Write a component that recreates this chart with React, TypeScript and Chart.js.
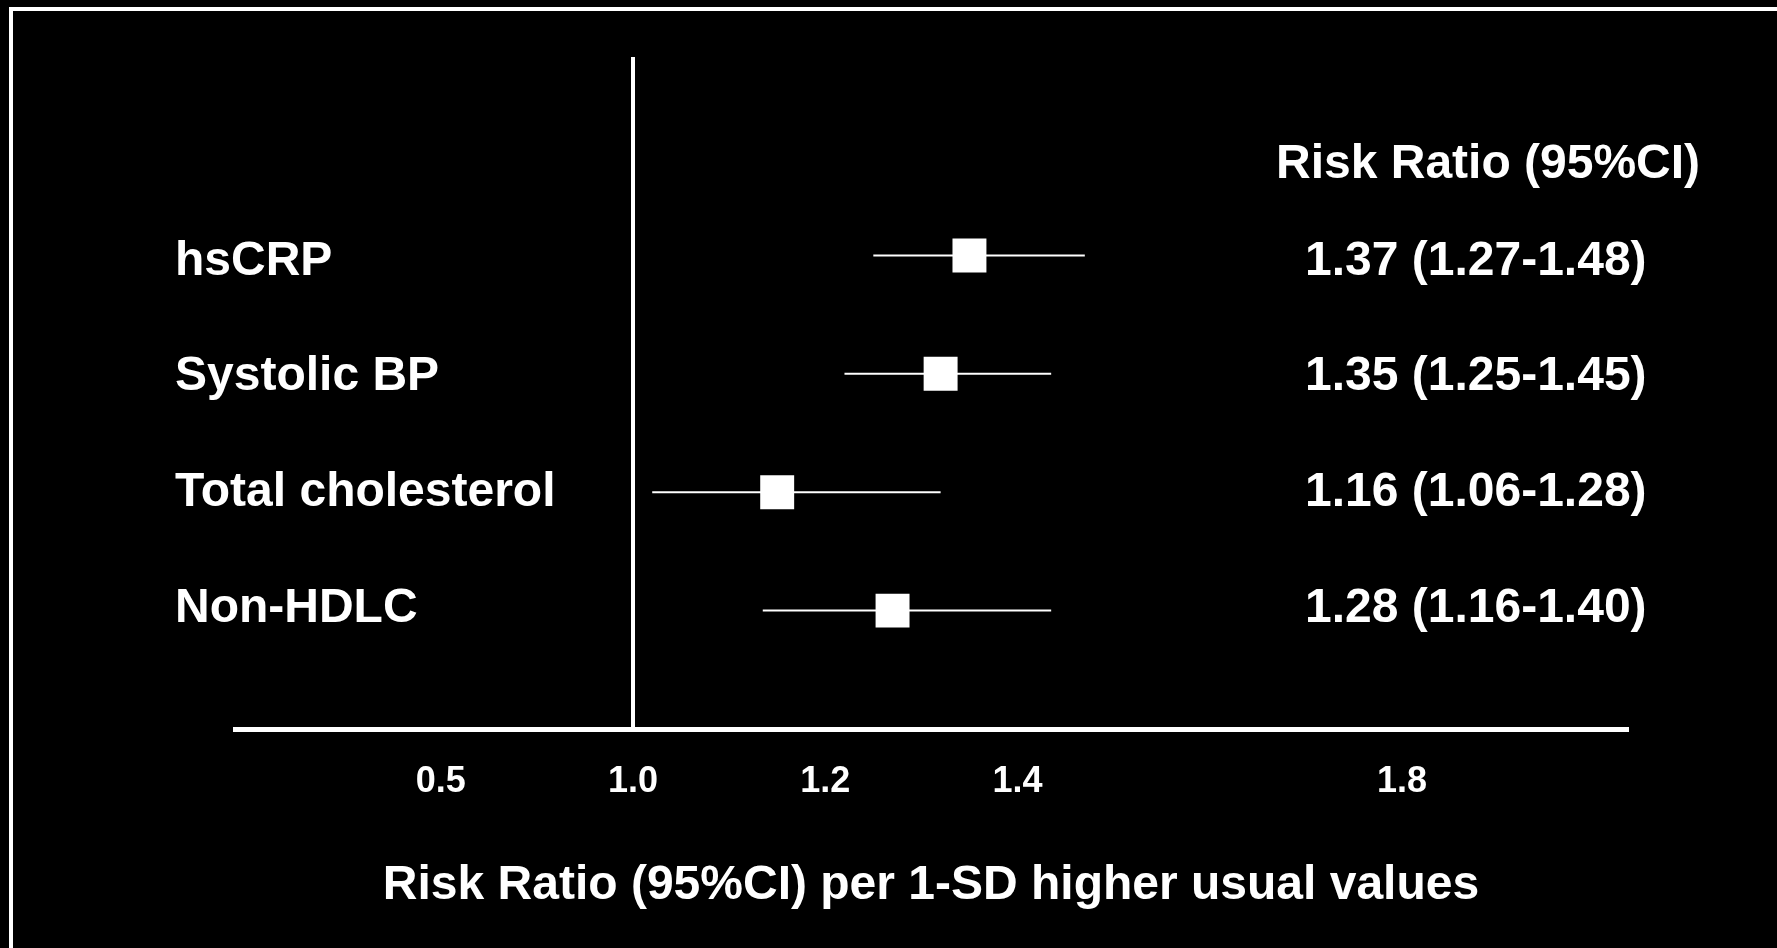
import React, { useEffect, useRef } from "react";
import { Chart, registerables } from "chart.js";

Chart.register(...registerables);

// ---- data ----
const categories = ["hsCRP", "Systolic BP", "Total cholesterol", "Non-HDLC"];
const riskRatio = [1.35, 1.32, 1.15, 1.27];
const ciLower = [1.25, 1.22, 1.02, 1.135];
const ciUpper = [1.47, 1.435, 1.32, 1.435];
const ciLabels = [
  "1.37 (1.27-1.48)",
  "1.35 (1.25-1.45)",
  "1.16 (1.06-1.28)",
  "1.28 (1.16-1.40)",
];
// axis has a break: the first tick (drawn at 0.8) is labelled "0.5"
const tickValues = [0.8, 1.0, 1.2, 1.4, 1.8];
const tickLabels = ["0.5", "1.0", "1.2", "1.4", "1.8"];
const referenceValue = 1.0;
const columnHeader = "Risk Ratio (95%CI)";
const axisTitle = "Risk Ratio (95%CI) per 1-SD higher usual values";

const FONT = "'Liberation Sans', Arial, Helvetica, sans-serif";

export default function App() {
  const canvasRef = useRef<HTMLCanvasElement | null>(null);

  useEffect(() => {
    document.body.style.margin = "0";
    document.body.style.background = "#000";
    const canvas = canvasRef.current;
    if (!canvas) return;

    const textPlugin = {
      id: "forestText",
      afterDraw(chart: any) {
        const { ctx } = chart;
        ctx.save();
        ctx.fillStyle = "#ffffff";
        ctx.font = `bold 48px ${FONT}`;
        ctx.textBaseline = "middle";
        ctx.textAlign = "left";
        const rowTop = 261.5;
        const rowStep = 115.7;
        categories.forEach((c, i) => {
          const py = rowTop + i * rowStep;
          ctx.fillText(c, 175, py);
          ctx.fillText(ciLabels[i], 1305, py);
        });
        ctx.fillText(columnHeader, 1276, 165);
        ctx.restore();
      },
    };

    const whiskers = categories.map((c, i) => ({
      label: c + " CI",
      data: [
        { x: ciLower[i], y: i },
        { x: ciUpper[i], y: i },
      ],
      showLine: true,
      borderColor: "#ffffff",
      borderWidth: 2,
      pointRadius: 0,
      pointHoverRadius: 0,
      order: 2,
    }));

    const points = {
      label: "Risk ratio",
      data: categories.map((_, i) => ({ x: riskRatio[i], y: i })),
      pointStyle: "rect",
      pointRadius: 24,
      pointHoverRadius: 24,
      backgroundColor: "#ffffff",
      borderColor: "#ffffff",
      borderWidth: 0,
      order: 0,
    };

    const chart = new Chart(canvas, {
      type: "scatter",
      data: { datasets: [points as any, ...whiskers] },
      options: {
        responsive: false,
        maintainAspectRatio: false,
        animation: false,
        layout: { padding: { left: 235, right: 150, top: 57, bottom: 0 } },
        plugins: {
          legend: { display: false },
          tooltip: { enabled: false },
          title: { display: false },
        },
        events: [],
        scales: {
          x: {
            type: "linear",
            min: 0.586,
            max: 2.034,
            afterBuildTicks: (scale: any) => {
              scale.ticks = tickValues.map((v) => ({ value: v }));
            },
            afterFit: (scale: any) => {
              scale.height = 219;
            },
            ticks: {
              color: "#ffffff",
              font: { family: FONT, size: 36, weight: "bold" },
              padding: 31,
              maxRotation: 0,
              autoSkip: false,
              callback: (_v: any, index: number) => tickLabels[index],
            },
            grid: {
              display: true,
              drawTicks: false,
              lineWidth: 4,
              color: (ctx: any) =>
                ctx.tick && Math.abs(ctx.tick.value - referenceValue) < 1e-9
                  ? "#ffffff"
                  : "rgba(0,0,0,0)",
            },
            border: { display: true, color: "#ffffff", width: 5 },
            title: {
              display: true,
              text: axisTitle,
              color: "#ffffff",
              font: { family: FONT, size: 48, weight: "bold" },
              padding: { top: 0, bottom: 33 },
            },
          },
          y: {
            type: "linear",
            display: false,
            reverse: true,
            min: -1.676,
            max: 4.0,
          },
        },
      },
      plugins: [textPlugin],
    });

    return () => {
      chart.destroy();
    };
  }, []);

  return (
    <div
      style={{
        position: "fixed",
        left: 0,
        top: 0,
        width: 1777,
        height: 948,
        background: "#000",
        overflow: "hidden",
      }}
    >
      <div
        style={{
          position: "absolute",
          left: 9,
          top: 7,
          right: 0,
          bottom: 0,
          borderLeft: "4px solid #fff",
          borderTop: "4px solid #fff",
          pointerEvents: "none",
        }}
      />
      <canvas
        ref={canvasRef}
        width={1777}
        height={948}
        style={{ position: "absolute", left: 0, top: 0, display: "block" }}
      />
    </div>
  );
}
